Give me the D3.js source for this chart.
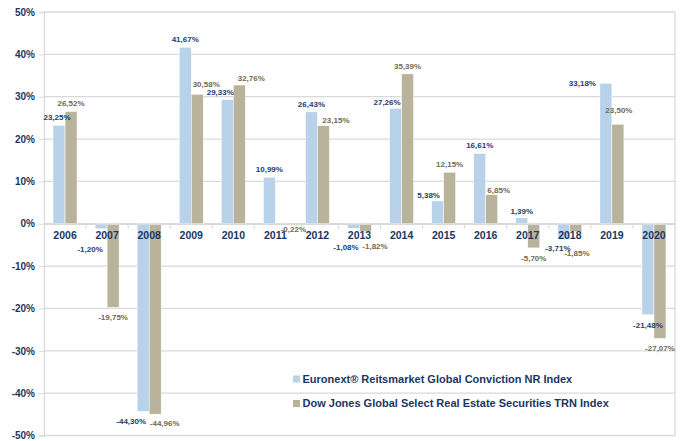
<!DOCTYPE html>
<html>
<head>
<meta charset="utf-8">
<script src="https://cdn.jsdelivr.net/npm/d3@7"></script>
<style>
  body { margin: 0; background: #fff; }
  text { font-family: "Liberation Sans", Arial, sans-serif; font-weight: bold; }
</style>
</head>
<body>
<svg id="chart" width="680" height="441"></svg>
<script>
const years = ["2006", "2007", "2008", "2009", "2010", "2011", "2012", "2013", "2014", "2015", "2016", "2017", "2018", "2019", "2020"];
const euronext = [23.25, -1.2, -44.3, 41.67, 29.33, 10.99, 26.43, -1.08, 27.26, 5.38, 16.61, 1.39, -3.71, 33.18, -21.48];
const dowJones = [26.52, -19.75, -44.96, 30.58, 32.76, -0.22, 23.15, -1.82, 35.39, 12.15, 6.85, -5.7, -1.85, 23.5, -27.07];
const yTicks = [-50, -40, -30, -20, -10, 0, 10, 20, 30, 40, 50];
const seriesNames = [
  "Euronext\u00ae Reitsmarket Global Conviction NR Index",
  "Dow Jones Global Select Real Estate Securities TRN Index"
];

const fills = ["#b8d2e9", "#bab39b"];
const labelColors = ["#1f3d6b", "#736a52"];
const navy = "#1a3761";

// hand placed label shifts (dx, dy), like the moved labels in the original
const nudge = [
  { 2006: [-2, 0], 2007: [-11, 10], 2008: [-12, 0], 2010: [-7, 1], 2013: [-7.5, 8.5], 2014: [-8.5, 2], 2015: [-9, 2], 2017: [0, 1.5], 2018: [-6, -1], 2019: [-23.5, 7.5] },
  { 2008: [9.5, -1], 2009: [9, -2.5], 2010: [12, 1.5], 2011: [12, -5], 2012: [12.5, 2], 2013: [9.5, 5], 2016: [7, 3], 2018: [1, 12], 2019: [1, -6.5] }
];

const svg = d3.select("#chart");
const margin = { left: 44, right: 5, top: 12, bottom: 5.5 };
const width = 680, height = 441;

const x = d3.scaleBand().domain(years).range([margin.left, width - margin.right]);
const inner = d3.scaleBand().domain([0, 1]).range([0, 24]);
const y = d3.scaleLinear().domain([-50, 50]).range([height - margin.bottom, margin.top]);
const fmt = (v) => d3.format(".2f")(v).replace(".", ",").replace("\u2212", "-") + "%";

// grid
svg.append("g")
  .selectAll("line")
  .data(yTicks)
  .join("line")
  .attr("x1", margin.left)
  .attr("x2", width - margin.right)
  .attr("y1", (d) => y(d))
  .attr("y2", (d) => y(d))
  .attr("stroke", "#d9d9d9")
  .attr("stroke-width", 1.3);

svg.append("line")
  .attr("x1", width - margin.right).attr("x2", width - margin.right)
  .attr("y1", y(50)).attr("y2", y(-50))
  .attr("stroke", "#d9d9d9").attr("stroke-width", 1.3);

// y axis
const yAxis = (g) =>
  g.attr("transform", `translate(${margin.left},0)`)
    .call(d3.axisLeft(y).tickValues(yTicks).tickSize(5).tickFormat((d) => d + "%"))
    .call((g) => g.select(".domain").attr("stroke", "#d9d9d9").attr("stroke-width", 1.3))
    .call((g) => g.selectAll(".tick line").attr("stroke", "#d9d9d9"))
    .call((g) => g.selectAll("text").attr("x", -9).attr("fill", navy).style("font-size", "10px").style("font-weight", "bold"));
svg.append("g").call(yAxis);

// bars
const series = [euronext, dowJones];
series.forEach((vals, s) => {
  svg.append("g")
    .selectAll("rect")
    .data(vals)
    .join("rect")
    .attr("x", (d, i) => x(years[i]) + (x.bandwidth() - 24) / 2 + inner(s))
    .attr("y", (d) => y(Math.max(0, d)))
    .attr("width", inner.bandwidth())
    .attr("height", (d) => Math.abs(y(d) - y(0)))
    .attr("fill", fills[s])
    .attr("stroke", "#fff")
    .attr("stroke-width", 0.5);
});

// zero axis with category ticks
const xAxis = (g) =>
  g.attr("transform", `translate(0,${y(0)})`)
    .call(d3.axisBottom(x).tickSize(0).tickSizeOuter(0))
    .call((g) => g.select(".domain").attr("stroke", "#d9d9d9").attr("stroke-width", 1.3))
    .call((g) => g.selectAll("text").attr("y", 8).attr("fill", navy).style("font-size", "10.5px").style("font-weight", "bold"));
svg.append("g").call(xAxis);

svg.append("g")
  .selectAll("line")
  .data(years.slice(1))
  .join("line")
  .attr("x1", (d) => x(d))
  .attr("x2", (d) => x(d))
  .attr("y1", y(0))
  .attr("y2", y(0) + 5)
  .attr("stroke", "#d9d9d9");

// value labels
series.forEach((vals, s) => {
  svg.append("g")
    .selectAll("text")
    .data(vals)
    .join("text")
    .attr("x", (d, i) => {
      const n = nudge[s][years[i]] || [0, 0];
      return x(years[i]) + (x.bandwidth() - 24) / 2 + inner(s) + inner.bandwidth() / 2 + n[0];
    })
    .attr("y", (d, i) => {
      const n = nudge[s][years[i]] || [0, 0];
      return (d >= 0 ? y(d) - 8 : y(d) + 10) + n[1];
    })
    .attr("dy", "0.35em")
    .attr("text-anchor", "middle")
    .attr("fill", labelColors[s])
    .style("font-size", "8px")
    .text((d) => fmt(d));
});

// legend
const legend = svg.append("g")
  .selectAll("g")
  .data(seriesNames)
  .join("g")
  .attr("transform", (d, i) => `translate(293,${379 + i * 24.5})`);
legend.append("rect")
  .attr("y", -3.5)
  .attr("width", 7)
  .attr("height", 7)
  .attr("fill", (d, i) => fills[i]);
legend.append("text")
  .attr("x", 9.5)
  .attr("dy", "0.36em")
  .attr("fill", navy)
  .style("font-size", "11px")
  .text((d) => d);
</script>
</body>
</html>
